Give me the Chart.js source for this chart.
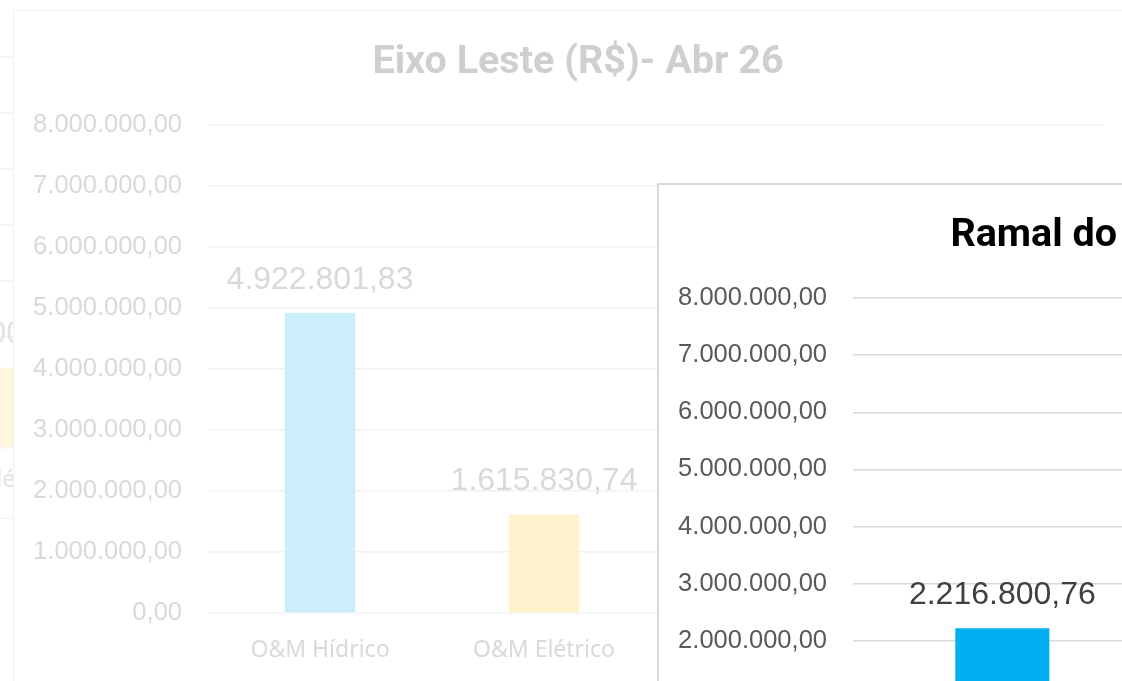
<!DOCTYPE html>
<html><head><meta charset="utf-8">
<script src="https://cdn.jsdelivr.net/npm/chart.js@4.4.1/dist/chart.umd.min.js"></script>
<style>
html,body{margin:0;padding:0;background:#fff;width:1122px;height:681px;overflow:hidden;position:relative}
.box{position:absolute;background:#fff}
.box canvas{position:absolute;left:0;top:0}
</style></head><body>
<div class="box" style="left:-538px;top:-120px;width:1128px;height:638px;border:1px solid #f2f2f2;border-top:none;border-right:none;z-index:1"><canvas id="cFrag" width="1128" height="638"></canvas></div>
<div class="box" style="left:13px;top:10px;width:1128px;height:672px;border:1.5px solid #f0f0f0;z-index:2"><canvas id="cLeste" width="1128" height="672"></canvas></div>
<div class="box" style="left:657px;top:183px;width:1128px;height:672px;border:2px solid #d9d9d9;z-index:3"><canvas id="cRamal" width="1128" height="672"></canvas></div>
<script>
// ---- data ----
const yTickMax = 8000000;
const yTickStep = 1000000;

const lesteTitle = 'Eixo Leste (R$)- Abr 26';
const lesteCategories = ['O&M Hídrico', 'O&M Elétrico', '', ''];
const lesteValues = [4922801.83, 1615830.74, null, null];

const ramalTitle = 'Ramal do Agreste (R$)- Abr 26';
const ramalCategories = ['O&M Hídrico', 'O&M Elétrico', ''];
const ramalValues = [2216800.76, null, null];

const fragTitle = 'Eixo Norte (R$)- Abr 26';
const fragYMax = 7000000;
const fragCategories = ['O&M Hídrico', 'O&M Elétrico', '', ''];
const fragValues = [null, 1440000, null, null];

function fmt(v){
  const parts = Math.abs(v).toFixed(2).split('.');
  return parts[0].replace(/\B(?=(\d{3})+(?!\d))/g, '.') + ',' + parts[1];
}

const valueLabelPlugin = {
  id: 'valueLabels',
  afterDatasetsDraw(chart, args, opts){
    const ctx = chart.ctx;
    const meta = chart.getDatasetMeta(0);
    ctx.save();
    ctx.font = '32px "Liberation Sans"';
    ctx.fillStyle = opts.color;
    ctx.textAlign = 'center';
    ctx.textBaseline = 'middle';
    meta.data.forEach((el, i) => {
      const v = chart.data.datasets[0].data[i];
      if (v == null) return;
      ctx.fillText(fmt(v), el.x, el.y - 33);
    });
    ctx.restore();
  }
};

function buildChart(id, o){
  return new Chart(document.getElementById(id), {
    type: 'bar',
    data: {
      labels: o.labels,
      datasets: [{ data: o.values, backgroundColor: o.colors, barPercentage: 1, categoryPercentage: 0.315, yAxisID: 'y' }]
    },
    options: {
      responsive: false, animation: false, devicePixelRatio: 1,
      layout: { padding: 0 },
      plugins: {
        legend: { display: false }, tooltip: { enabled: false },
        title: { display: true, text: o.title, color: o.titleColor,
          font: { family: 'Roboto', weight: 'bold', size: 39.5, lineHeight: 1.2 },
          padding: { top: o.titleTop, bottom: o.titleBottom } },
        valueLabels: { color: o.valueColor }
      },
      scales: {
        x: {
          grid: { display: false, drawTicks: false }, border: { display: false },
          ticks: { color: o.xColor, font: { family: 'Noto Sans', size: 23, lineHeight: 1.2 }, padding: o.xPad, maxRotation: 0, autoSkip: false },
          afterFit: s => { s.height = o.xHeight; }
        },
        y: {
          min: 0, max: o.yMax,
          grid: { color: o.gridColor, lineWidth: 1.5, drawTicks: false }, border: { display: false },
          ticks: { stepSize: yTickStep, color: o.tickColor, font: { family: 'Liberation Sans', size: 25.5 }, padding: 26, callback: v => fmt(v) },
          afterFit: s => { s.width = 194; }
        },
        yR: {
          position: 'right', min: 0, max: 1, display: true,
          grid: { display: false, drawTicks: false }, border: { display: false }, ticks: { display: false },
          afterFit: s => { s.width = 38; }
        }
      }
    },
    plugins: [valueLabelPlugin]
  });
}

buildChart('cFrag', {
  labels: fragCategories, values: fragValues, colors: ['#e9f7fd', '#fff6dd', '#fff6dd', '#fff6dd'], yMax: fragYMax,
  title: fragTitle, titleColor: '#e6e6e6', titleTop: 0, titleBottom: 129.6,
  valueColor: '#e3e3e3', xColor: '#e3e3e3', tickColor: '#e3e3e3', gridColor: '#f4f4f4',
  xPad: 18.2, xHeight: 70
});

buildChart('cLeste', {
  labels: lesteCategories, values: lesteValues, colors: ['#cceefa', '#fff2cc', '#fff2cc', '#fff2cc'], yMax: yTickMax,
  title: lesteTitle, titleColor: '#cfcfcf', titleTop: 28.3, titleBottom: 38.3,
  valueColor: '#d9d9d9', xColor: '#d9d9d9', tickColor: '#d9d9d9', gridColor: '#f2f2f2',
  xPad: 23.2, xHeight: 70
});

buildChart('cRamal', {
  labels: ramalCategories, values: ramalValues, colors: ['#00b0f0', '#ffc000', '#ffc000'], yMax: yTickMax,
  title: ramalTitle, titleColor: '#000000', titleTop: 27.3, titleBottom: 38.3,
  valueColor: '#404040', xColor: '#595959', tickColor: '#595959', gridColor: '#d9d9d9',
  xPad: 23.2, xHeight: 102
});
</script>
</body></html>
